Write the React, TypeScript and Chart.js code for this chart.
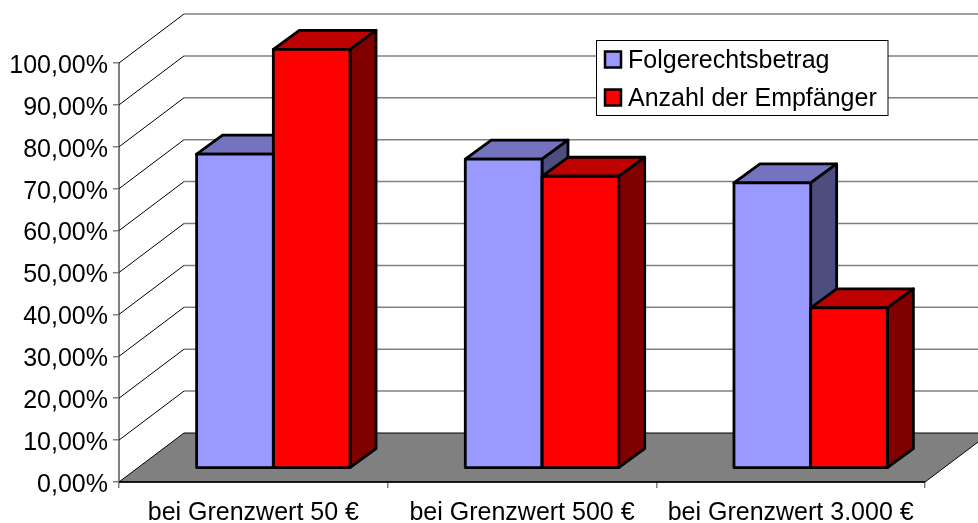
import React, { useEffect, useRef } from "react";
import { Chart, registerables } from "chart.js";

Chart.register(...registerables);

const categories = ["bei Grenzwert 50 €", "bei Grenzwert 500 €", "bei Grenzwert 3.000 €"];
const folgerechtsbetrag = [75, 73.8, 68.1];
const anzahlEmpfaenger = [100, 69.7, 38.3];
const seriesNames = ["Folgerechtsbetrag", "Anzahl der Empfänger"];

const FONT = "'Liberation Sans', Arial, sans-serif";
const FONT_SIZE = 25;
const OUTLINE = 2.8;
const WALL = { dx: 65, dy: -49 };
const SHIFT = { dx: 20, dy: -13.7 };
const DEPTH = { dx: 26, dy: -19 };
const FACES = [
  { front: "#9999FF", top: "#7373BF", side: "#4D4D80" },
  { front: "#FF0000", top: "#BF0000", side: "#800000" },
];

function poly(ctx: CanvasRenderingContext2D, pts: number[][], fill: string | null, stroke: string, lw: number) {
  ctx.beginPath();
  pts.forEach((p, i) => (i ? ctx.lineTo(p[0], p[1]) : ctx.moveTo(p[0], p[1])));
  ctx.closePath();
  if (fill) {
    ctx.fillStyle = fill;
    ctx.fill();
  }
  ctx.strokeStyle = stroke;
  ctx.lineWidth = lw;
  ctx.lineJoin = "round";
  ctx.stroke();
}

const scene3d = {
  id: "scene3d",
  beforeDraw(chart: any) {
    // The reference's value labels sit a little lower than the tick they belong to.
    const y = chart.scales.y;
    y.getLabelItems(chart.chartArea).forEach((item: any) => {
      if (!item.__moved) {
        item.options.translation[1] += 3;
        item.__moved = true;
      }
    });
  },
  beforeDatasetsDraw(chart: any) {
    const { ctx, chartArea, scales, width } = chart;
    const { left, right, bottom } = chartArea;
    const y = scales.y;
    ctx.save();
    // floor
    poly(
      ctx,
      [
        [left, bottom],
        [left + WALL.dx, bottom + WALL.dy],
        [right + WALL.dx, bottom + WALL.dy],
        [right, bottom],
      ],
      "#808080",
      "#000000",
      1
    );
    // walls
    y.ticks.forEach((t: any) => {
      const py = y.getPixelForValue(t.value);
      if (t.value > 0) {
        ctx.strokeStyle = "#000000";
        ctx.lineWidth = 1;
        ctx.beginPath();
        ctx.moveTo(left, py);
        ctx.lineTo(left + WALL.dx, py + WALL.dy);
        ctx.stroke();
        ctx.strokeStyle = "#808080";
        ctx.lineWidth = 1.5;
        ctx.beginPath();
        ctx.moveTo(left + WALL.dx, py + WALL.dy);
        ctx.lineTo(width, py + WALL.dy);
        ctx.stroke();
      }
    });
    // x axis line
    ctx.strokeStyle = "#000000";
    ctx.lineWidth = 1.5;
    ctx.beginPath();
    ctx.moveTo(left, bottom);
    ctx.lineTo(right, bottom);
    ctx.stroke();
    // bar tops and sides, series by series, then the library fills the fronts over them
    ctx.translate(SHIFT.dx, SHIFT.dy);
    chart.data.datasets.forEach((_: any, i: number) => {
      chart.getDatasetMeta(i).data.forEach((bar: any) => {
        const p = bar.getProps(["x", "y", "base", "width"], true);
        const l = p.x - p.width / 2;
        const r = p.x + p.width / 2;
        poly(
          ctx,
          [
            [l, p.y],
            [l + DEPTH.dx, p.y + DEPTH.dy],
            [r + DEPTH.dx, p.y + DEPTH.dy],
            [r, p.y],
          ],
          FACES[i].top,
          "#000000",
          OUTLINE
        );
        poly(
          ctx,
          [
            [r, p.y],
            [r + DEPTH.dx, p.y + DEPTH.dy],
            [r + DEPTH.dx, p.base + DEPTH.dy],
            [r, p.base],
          ],
          FACES[i].side,
          "#000000",
          OUTLINE
        );
      });
    });
  },
  afterDatasetsDraw(chart: any) {
    const { ctx } = chart;
    // outlines centred on the bar edges, still in the shifted frame
    chart.data.datasets.forEach((_: any, i: number) => {
      chart.getDatasetMeta(i).data.forEach((bar: any) => {
        const p = bar.getProps(["x", "y", "base", "width"], true);
        const l = p.x - p.width / 2;
        const r = p.x + p.width / 2;
        poly(
          ctx,
          [
            [l, p.y],
            [r, p.y],
            [r, p.base],
            [l, p.base],
          ],
          null,
          "#000000",
          OUTLINE
        );
      });
    });
    ctx.restore();
  },
  afterDraw(chart: any) {
    const { ctx } = chart;
    ctx.save();
    ctx.fillStyle = "#FFFFFF";
    ctx.strokeStyle = "#000000";
    ctx.lineWidth = 1;
    ctx.fillRect(596.5, 40.5, 291.5, 75);
    ctx.strokeRect(596.5, 40.5, 291.5, 75);
    ctx.font = `${FONT_SIZE}px ${FONT}`;
    ctx.textBaseline = "middle";
    ctx.textAlign = "left";
    chart.data.datasets.forEach((ds: any, i: number) => {
      const cy = 60 + i * 38;
      ctx.fillStyle = ds.backgroundColor;
      ctx.lineWidth = 2.5;
      ctx.fillRect(605, cy - 8.5, 16, 16);
      ctx.strokeRect(605, cy - 8.5, 16, 16);
      ctx.fillStyle = "#000000";
      ctx.fillText(ds.label, 628, cy + 1);
    });
    ctx.restore();
  },
};

export default function App() {
  const ref = useRef<HTMLCanvasElement>(null);
  useEffect(() => {
    const chart = new Chart(ref.current!, {
      type: "bar",
      data: {
        labels: categories,
        datasets: [
          {
            label: seriesNames[0],
            data: folgerechtsbetrag,
            backgroundColor: FACES[0].front,
            borderWidth: 0,
            clip: false,
          },
          {
            label: seriesNames[1],
            data: anzahlEmpfaenger,
            backgroundColor: FACES[1].front,
            borderWidth: 0,
            clip: false,
          },
        ],
      } as any,
      options: {
        responsive: false,
        animation: false,
        layout: { padding: { top: 63, right: 53, bottom: 0, left: 0 } },
        datasets: { bar: { categoryPercentage: 0.571, barPercentage: 1 } },
        plugins: { legend: { display: false }, tooltip: { enabled: false } },
        scales: {
          x: {
            afterFit: (s: any) => {
              s.height = 41;
            },
            grid: { offset: true, drawOnChartArea: false, color: "#808080", lineWidth: 1.5, tickLength: 6 },
            border: { display: false },
            ticks: {
              color: "#000000",
              font: { family: FONT, size: FONT_SIZE },
              autoSkip: false,
              maxRotation: 0,
              padding: 10,
            },
          },
          y: {
            min: 0,
            max: 100,
            afterFit: (s: any) => {
              s.width = 119;
            },
            grid: { drawOnChartArea: false, color: "#808080", lineWidth: 1.5, tickLength: 6 },
            border: { display: true, color: "#808080", width: 2 },
            ticks: {
              stepSize: 10,
              color: "#000000",
              font: { family: FONT, size: FONT_SIZE },
              padding: 5,
              callback: (v: any) => Number(v).toFixed(2).replace(".", ",") + "%",
            },
          },
        },
      } as any,
      plugins: [scene3d],
    });
    return () => chart.destroy();
  }, []);
  return (
    <canvas
      ref={ref}
      width={978}
      height={523}
      style={{ position: "absolute", left: 0, top: 0, width: 978, height: 523 }}
    />
  );
}
